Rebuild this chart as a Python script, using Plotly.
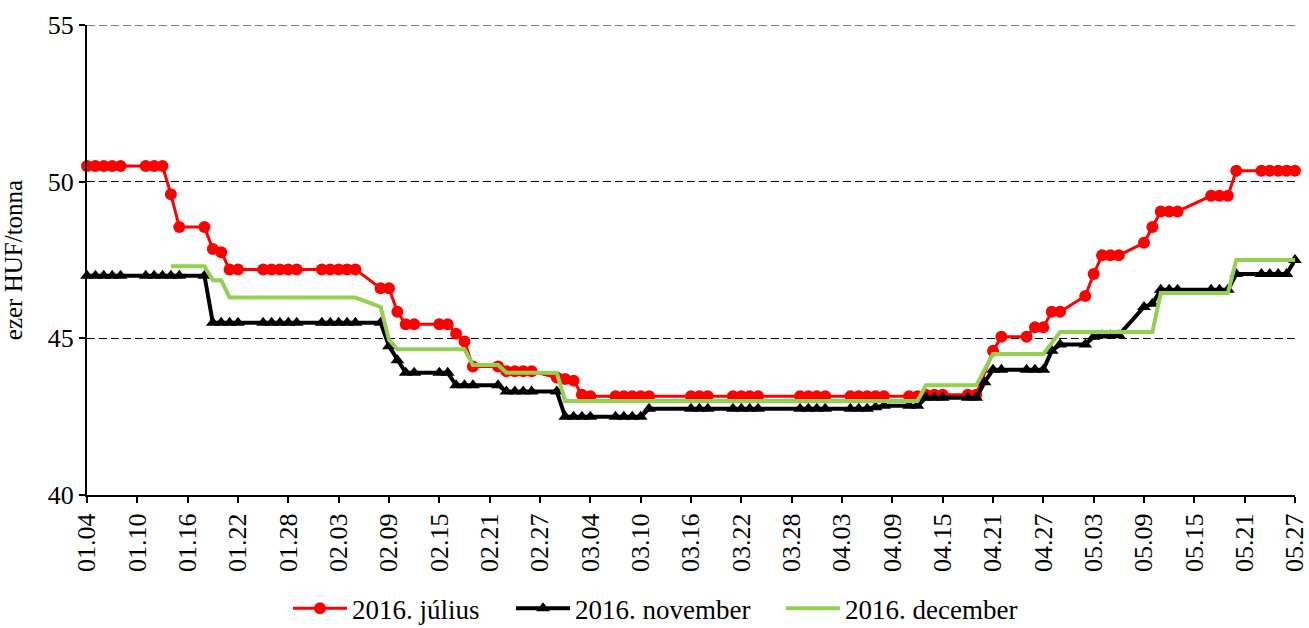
import plotly.graph_objects as go

# Trading days (2016)
dates = [
    "2016-01-04", "2016-01-05", "2016-01-06", "2016-01-07", "2016-01-08",
    "2016-01-11", "2016-01-12", "2016-01-13", "2016-01-14", "2016-01-15",
    "2016-01-18", "2016-01-19", "2016-01-20", "2016-01-21", "2016-01-22",
    "2016-01-25", "2016-01-26", "2016-01-27", "2016-01-28", "2016-01-29",
    "2016-02-01", "2016-02-02", "2016-02-03", "2016-02-04", "2016-02-05",
    "2016-02-08", "2016-02-09", "2016-02-10", "2016-02-11", "2016-02-12",
    "2016-02-15", "2016-02-16", "2016-02-17", "2016-02-18", "2016-02-19",
    "2016-02-22", "2016-02-23", "2016-02-24", "2016-02-25", "2016-02-26",
    "2016-02-29",
    "2016-03-01", "2016-03-02", "2016-03-03", "2016-03-04",
    "2016-03-07", "2016-03-08", "2016-03-09", "2016-03-10", "2016-03-11",
    "2016-03-16", "2016-03-17", "2016-03-18",
    "2016-03-21", "2016-03-22", "2016-03-23", "2016-03-24",
    "2016-03-29", "2016-03-30", "2016-03-31",
    "2016-04-01",
    "2016-04-04", "2016-04-05", "2016-04-06", "2016-04-07", "2016-04-08",
    "2016-04-11", "2016-04-12", "2016-04-13", "2016-04-14", "2016-04-15",
    "2016-04-18", "2016-04-19", "2016-04-20", "2016-04-21", "2016-04-22",
    "2016-04-25", "2016-04-26", "2016-04-27", "2016-04-28", "2016-04-29",
    "2016-05-02", "2016-05-03", "2016-05-04", "2016-05-05", "2016-05-06",
    "2016-05-09", "2016-05-10", "2016-05-11", "2016-05-12", "2016-05-13",
    "2016-05-17", "2016-05-18", "2016-05-19", "2016-05-20",
    "2016-05-23", "2016-05-24", "2016-05-25", "2016-05-26", "2016-05-27",
]

julius = [
    50.5, 50.5, 50.5, 50.5, 50.5,
    50.5, 50.5, 50.5, 49.6, 48.55,
    48.55, 47.85, 47.75, 47.2, 47.2,
    47.2, 47.2, 47.2, 47.2, 47.2,
    47.2, 47.2, 47.2, 47.2, 47.2,
    46.6, 46.6, 45.85, 45.45, 45.45,
    45.45, 45.45, 45.15, 44.9, 44.1,
    44.1, 43.95, 43.95, 43.95, 43.95,
    43.75,
    43.7, 43.65, 43.2, 43.15,
    43.15, 43.15, 43.15, 43.15, 43.15,
    43.15, 43.15, 43.15,
    43.15, 43.15, 43.15, 43.15,
    43.15, 43.15, 43.15,
    43.15,
    43.15, 43.15, 43.15, 43.15, 43.15,
    43.15, 43.15, 43.2, 43.2, 43.2,
    43.2, 43.2, None, 44.6, 45.05,
    45.05, 45.35, 45.35, 45.85, 45.85,
    46.35, 47.05, 47.65, 47.65, 47.65,
    48.05, 48.55, 49.05, 49.05, 49.05,
    49.55, 49.55, 49.55, 50.35,
    50.35, 50.35, 50.35, 50.35, 50.35,
]

november = [
    47.0, 47.0, 47.0, 47.0, 47.0,
    47.0, 47.0, 47.0, 47.0, 47.0,
    47.0, 45.5, 45.5, 45.5, 45.5,
    45.5, 45.5, 45.5, 45.5, 45.5,
    45.5, 45.5, 45.5, 45.5, 45.5,
    45.5, 44.75, 44.3, 43.9, 43.9,
    43.9, 43.9, 43.5, 43.5, 43.5,
    43.5, 43.3, 43.3, 43.3, 43.3,
    43.3,
    42.5, 42.5, 42.5, 42.5,
    42.5, 42.5, 42.5, 42.5, 42.75,
    42.75, 42.75, 42.75,
    42.75, 42.75, 42.75, 42.75,
    42.75, 42.75, 42.75,
    42.75,
    42.75, 42.75, 42.75, 42.8, 42.85,
    42.85, 42.85, 43.1, 43.1, 43.1,
    43.1, 43.1, 43.6, 44.0, 44.0,
    44.0, 44.0, 44.0, 44.6, 44.8,
    44.8, 45.05, 45.1, 45.1, 45.1,
    46.0, 46.1, 46.55, 46.55, 46.55,
    46.55, 46.55, 46.55, 47.05,
    47.05, 47.05, 47.05, 47.05, 47.5,
]

december = [
    None, None, None, None, None,
    None, None, None, 47.3, 47.3,
    47.3, 46.85, 46.85, 46.3, 46.3,
    46.3, 46.3, 46.3, 46.3, 46.3,
    46.3, 46.3, 46.3, 46.3, 46.3,
    46.0, 44.95, 44.65, 44.65, 44.65,
    44.65, 44.65, 44.65, 44.65, 44.15,
    44.15, 43.9, 43.9, 43.9, 43.9,
    43.9,
    43.0, 43.0, 43.0, 43.0,
    43.0, 43.0, 43.0, 43.0, 43.0,
    43.0, 43.0, 43.0,
    43.0, 43.0, 43.0, 43.0,
    43.0, 43.0, 43.0,
    43.0,
    43.0, 43.0, 43.0, 43.0, 43.0,
    43.0, 43.0, 43.5, 43.5, 43.5,
    43.5, 43.5, 44.0, 44.5, 44.5,
    44.5, 44.5, 44.5, 44.85, 45.2,
    45.2, 45.2, 45.2, 45.2, 45.2,
    45.2, 45.2, 46.45, 46.45, 46.45,
    46.45, 46.45, 46.45, 47.5,
    47.5, 47.5, 47.5, 47.5, 47.5,
]

tick_dates = [
    "2016-01-04", "2016-01-10", "2016-01-16", "2016-01-22", "2016-01-28",
    "2016-02-03", "2016-02-09", "2016-02-15", "2016-02-21", "2016-02-27",
    "2016-03-04", "2016-03-10", "2016-03-16", "2016-03-22", "2016-03-28",
    "2016-04-03", "2016-04-09", "2016-04-15", "2016-04-21", "2016-04-27",
    "2016-05-03", "2016-05-09", "2016-05-15", "2016-05-21", "2016-05-27",
]
tick_labels = [
    "01.04", "01.10", "01.16", "01.22", "01.28",
    "02.03", "02.09", "02.15", "02.21", "02.27",
    "03.04", "03.10", "03.16", "03.22", "03.28",
    "04.03", "04.09", "04.15", "04.21", "04.27",
    "05.03", "05.09", "05.15", "05.21", "05.27",
]
y_ticks = [40, 45, 50, 55]
series_names = ["2016. július", "2016. november", "2016. december"]
y_title = "ezer HUF/tonna"

FONT = "Liberation Serif, Times New Roman, serif"

fig = go.Figure()
fig.add_trace(go.Scatter(
    x=dates, y=julius, name=series_names[0], mode="lines+markers",
    line=dict(color="#FF0000", width=3),
    marker=dict(symbol="circle", size=12, color="#FF0000"),
    connectgaps=True, cliponaxis=False, legend="legend",
))
fig.add_trace(go.Scatter(
    x=dates, y=november, name=series_names[1], mode="lines+markers",
    line=dict(color="#000000", width=4),
    marker=dict(symbol="triangle-up", size=12, color="#000000"),
    connectgaps=True, cliponaxis=False, legend="legend2",
))
fig.add_trace(go.Scatter(
    x=dates, y=december, name=series_names[2], mode="lines",
    line=dict(color="#92D050", width=4),
    connectgaps=True, cliponaxis=False, legend="legend3",
))

plot_left, plot_w = 87, 1208


def lx(px):
    return (px - plot_left) / plot_w


leg_common = dict(orientation="h", xanchor="left", y=-0.242, yanchor="middle",
                  itemwidth=54, font=dict(size=27, family=FONT, color="black"),
                  bgcolor="rgba(0,0,0,0)", borderwidth=0)

fig.update_layout(
    width=1309, height=628,
    margin=dict(l=87, r=14, t=25, b=133, autoexpand=False),
    plot_bgcolor="white", paper_bgcolor="white",
    font=dict(family=FONT, color="black"),
    showlegend=True,
    legend=dict(x=lx(288), **leg_common),
    legend2=dict(x=lx(511), **leg_common),
    legend3=dict(x=lx(781), **leg_common),
    shapes=[dict(type="line", xref="paper", yref="y", x0=0, x1=1,
                 y0=y_ticks[-1], y1=y_ticks[-1],
                 line=dict(color="black", width=1.2, dash="8px,4px"), layer="below")],
)
fig.update_xaxes(
    type="date", range=["2016-01-04", "2016-05-27"],
    tickvals=tick_dates, ticktext=tick_labels, tickangle=-90,
    ticks="outside", ticklen=6, tickwidth=2, tickcolor="black",
    showline=True, linecolor="black", linewidth=2, showgrid=False, zeroline=False,
    tickfont=dict(size=26, family=FONT, color="black"), automargin=False,
    ticklabeloverflow="allow",
)
fig.update_yaxes(
    range=[40, 55], tickvals=y_ticks,
    ticks="outside", ticklen=6, tickwidth=2, tickcolor="black",
    showline=True, linecolor="black", linewidth=2,
    showgrid=True, gridcolor="black", gridwidth=1.2, griddash="8px,4px", zeroline=False,
    tickfont=dict(size=26, family=FONT, color="black"),
    title=dict(text=y_title, font=dict(size=25, family=FONT, color="black"), standoff=18),
    automargin=False, ticklabeloverflow="allow",
)

fig.write_html("out.html", config={"displayModeBar": False},
               post_script="document.body.style.margin='0';document.body.style.overflow='hidden';")
